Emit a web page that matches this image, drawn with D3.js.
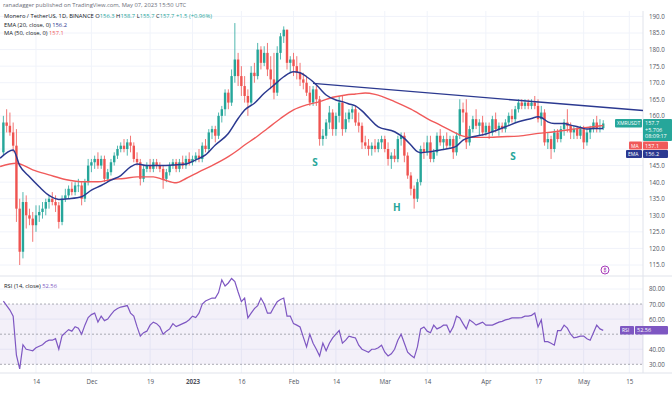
<!DOCTYPE html>
<html lang="en">
<head>
<meta charset="UTF-8">
<title>XMR/USDT 1D</title>
<script src="https://cdn.jsdelivr.net/npm/d3@7"></script>
<style>
    body {margin: 0; background: #fff;}
    text {font-family: "Open Sans", "Noto Sans", sans-serif;}
</style>
</head>
<body>
<script>
    const width = 672;
    const height = 395;

    // daily candles, 4 Nov 2022 .. 7 May 2023
    const startDate = "2022-11-04";
    const open = [
        149,158,157,155,151,132,119,134,130,129, 127,130,131,132,134,135,134,133,128,135,
        136,138,137,139,139,135,140,145,146,147, 145,147,141,143,146,148,150,151,150,152,
        151,147,146,141,144,145,144,146,145,144, 141,143,145,146,144,146,145,147,146,147,
        148,147,151,150,155,156,154,160,162,167, 164,172,177,172,169,166,164,173,172,180,
        176,179,174,171,167,179,184,186,176,177, 175,173,171,170,167,164,168,165,153,154,
        158,161,156,160,164,156,159,161,162,158, 157,152,151,150,151,150,152,153,150,147,
        148,147,153,154,148,142,138,135,140,150, 149,152,147,149,154,152,153,151,153,149,
        154,162,161,152,156,159,157,158,155,157, 155,159,156,157,156,158,160,159,162,164,
        163,164,163,164,163,159,161,152,153,150, 155,153,156,158,157,155,156,154,156,152,
        155,156,158,156,156.3];
    const high = [
        160,162,161,158,156,135,137,136,132,131, 133,133,134,135,136,137,136,134,136,138,
        139,140,140,141,140,141,147,147,148,149, 148,148,144,147,149,151,152,153,153,154,
        152,149,147,145,146,147,147,147,146,145, 144,146,147,147,147,148,148,149,148,149,
        150,152,153,156,157,157,161,163,168,168, 174,188,179,175,172,168,175,176,182,181,
        181,182,178,179,181,185,187,186,178,179, 178,176,173,172,169,169,169,166,156,159,
        163,162,161,166,166,161,162,163,163,161, 158,154,153,152,153,153,154,154,152,149,
        150,154,155,155,149,143,139,141,151,152, 154,154,150,155,156,154,155,154,154,155,
        165,164,165,157,160,162,159,160,158,158, 160,161,158,158,159,161,162,163,165,165,
        165,165,165,166,165,163,162,155,154,156, 156,157,159,162,158,157,157,157,157,156,
        157,159,160,159,158.7];
    const low = [
        148,155,154,149,128,115,117,126,127,122, 125,128,129,130,132,133,131,126,127,134,
        135,136,136,137,133,134,139,143,144,144, 144,140,140,142,145,147,149,149,148,149,
        146,145,139,140,143,143,143,144,143,138, 140,142,144,143,143,144,144,145,145,146,
        146,146,149,149,153,152,153,158,160,162, 163,170,169,166,164,160,163,170,171,174,
        175,172,168,165,166,177,182,174,173,172, 171,169,168,166,163,163,163,151,151,153,
        156,154,154,158,154,155,158,159,157,155, 150,150,148,148,149,149,150,149,145,144,
        146,146,151,146,141,136,132,134,139,147, 148,146,146,148,151,150,150,150,147,148,
        153,158,150,151,155,156,154,154,154,153, 154,155,154,155,155,157,158,158,161,162,
        162,162,162,162,158,157,151,150,147,149, 152,152,154,155,153,153,153,153,150,151,
        153,155,155,155,155.7];
    const close = [
        158,157,155,151,132,119,134,130,129,127, 130,131,132,134,135,134,133,128,135,136,
        138,137,139,139,135,140,145,146,147,145, 147,141,143,146,148,150,151,150,152,151,
        147,146,141,144,145,144,146,145,144,141, 143,145,146,144,146,145,147,146,147,148,
        147,151,150,155,156,154,160,162,167,164, 172,177,172,169,166,164,173,172,180,176,
        179,174,171,167,179,184,186,176,177,175, 173,171,170,167,164,168,165,153,154,158,
        161,156,160,164,156,159,161,162,158,157, 152,151,150,151,150,152,153,150,147,148,
        147,153,154,148,142,138,135,140,150,149, 152,147,149,154,152,153,151,153,149,154,
        162,161,152,156,159,157,158,155,157,155, 159,156,157,156,158,160,159,162,164,163,
        164,163,164,163,159,161,152,153,150,155, 153,156,158,157,155,156,154,156,152,155,
        156,158,156,156.2,157.7];
    const rsi = [
        72,69,66,62,36,27,43,40,39.5,39, 41,42,43,45,46,46,47,40,49,51,
        53,52,55,54,50,56,61,63,64,58, 62,59,60,63,65.6,67,68,68.5,69,64,
        62,55,48.7,51,52,56,58,57,54.8,50, 52,53.5,57,55,56,57,58,59.6,62,61,
        64,70,72,73,74,74,77.6,86,82,84, 87,85,78,71.6,74,60.8,64,67,69,74,
        70,64,64,68,71.6,73,74,62,62,57, 56,54.8,48,41.5,50,44,40,35.5,44,39,
        44,47.5,50,52.4,44,46,48.7,48,47.5,42.7, 40,39,38,40,40,41,42.7,38,35.5,37,
        40,46,50,44,38,36,34.3,41.5,53.5,54.8, 52,51,56,53.5,54.5,56,56,51,55,62,
        60.8,57,53.5,59.5,58,56,57,58,56,56, 56,57,58,58.5,59.5,60,60.8,60.8,60.8,61,
        62,62,62.5,64,54.8,59.5,45,45,44,42.7, 52.4,52.4,56,54,50,47.5,48,48.7,48.7,47,
        46,51,56,53.5,52.56];

    // EMA (20) and MA (50) at some candle indexes
    const emaIdx = [-1,3,5,8,11,14,17,20,24,27, 30,33,36,39,41,44,49,52,56,59, 62,65,69,72,74,77,80,83,86,89,
        91,93,95,97,99,102,104,106,108,110, 112,115,120,123,125,127,128,131,134,137,
        139,141,144,148,150,154,158,162,164,165, 167,169,172,174,177,179,181,184];
    const emaVal = [147.2,149.7,145,141.6,138.6,136,134.8,135,135.6,137.6, 139,140.6,142,144.6,145.5,145,145,145.2,145.5,146.7,
        148.2,151.2,154.7,159.2,161.8,163.8,166.8,169.3,171.8,173.3, 173,171.8,170.3,168.3,166.3,164.8,164.3,163.6,163,161.5,
        159.5,156.7,155.2,153.2,151.2,149.2,148.9,149.2,149.7,150.2, 150.9,152.7,153.7,154.5,155.2,156.7,158.2,159.2,159.7,159.5,
        158.2,157.7,157.7,157.2,156.5,156,156.2,156.2];
    const maIdx = [-1,4,9,14,19,25,29,33,37,41, 46,49,53,56,60,64,69,72,74,77, 81,85,89,93,97,101,105,108,111,114,
        120,125,130,134,138,141,144,148,153,158, 164,169,174,179,184];
    const maVal = [144.7,145.7,143.7,142.2,140.8,140.1,140.1,140.8,141.1,141.6, 141.6,140.8,139.8,141.1,143.1,145,147.7,149.7,151.2,153.2,
        156.2,159.2,161.8,163.3,164.3,165.6,166.3,166.6,166.9,166.5, 164.3,162,159.2,157.2,155.2,153.9,153.5,153.5,153.7,153.9,
        154.7,155.2,155.9,156.5,157.1];

    // neckline drawn on the chart
    const neckIdx = [95, 196.2];
    const neckVal = [169.8, 161.6];

    // head & shoulders letters
    const hsText = ["S", "H", "S"];
    const hsIdx = [95.6, 120.7, 156.3];
    const hsVal = [146.1, 132.5, 147.9];

    const priceTicks = [115,120,125,130,135,140,145,150,155,160,165,170,175,180,185,190];
    const hiddenPrice = [150, 155];   // covered by the price tags on the right
    const rsiTicks = [30,40,60,70,80];
    const rsiLevels = [30,50,70];
    const timeTicks = ["2022-11-14","2022-12-01","2022-12-19","2023-01-01","2023-01-16","2023-02-01",
        "2023-02-14","2023-03-01","2023-03-14","2023-04-01","2023-04-17","2023-05-01","2023-05-15"];
    const timeLabels = ["14","Dec","19","2023","16","Feb","14","Mar","14","Apr","17","May","15"];

    const up = "#26a69a", down = "#ef5350", emaColor = "#2b3990", maColor = "#f05a5a", rsiColor = "#7e57c2";
    const plotR = 643, mainTop = 11, mainBot = 276, rsiBot = 373;

    const parse = d3.utcParse("%Y-%m-%d");
    const day0 = parse(startDate);
    const at = i => new Date(day0.getTime() + i * 864e5);

    const x = d3.scaleUtc().domain([at(-1.04), at(196.2)]).range([0, plotR]);
    const y = d3.scaleLinear().domain([115, 185]).range([265, 33]);
    const yr = d3.scaleLinear().domain([30, 80]).range([364.3, 289]);

    const svg = d3.select("body").append("svg")
            .attr("width", width).attr("height", height);

    svg.append("rect").attr("width", width).attr("height", height).attr("fill", "#fff");

    const defs = svg.append("defs");
    defs.append("clipPath").attr("id", "clipMain").append("rect")
            .attr("x", 0).attr("y", mainTop).attr("width", plotR).attr("height", mainBot - mainTop);
    defs.append("clipPath").attr("id", "clipRsi").append("rect")
            .attr("x", 0).attr("y", mainBot).attr("width", plotR).attr("height", rsiBot - mainBot);

    // grid
    svg.append("g").selectAll("line").data(priceTicks).join("line")
            .attr("x1", 0).attr("x2", plotR)
            .attr("y1", d => y(d)).attr("y2", d => y(d))
            .attr("stroke", "#f0f3fa").attr("stroke-width", 1);
    svg.append("g").selectAll("line").data([40, 60, 80]).join("line")
            .attr("x1", 0).attr("x2", plotR)
            .attr("y1", d => yr(d)).attr("y2", d => yr(d))
            .attr("stroke", "#f0f3fa");
    svg.append("g").selectAll("line").data(timeTicks).join("line")
            .attr("x1", d => x(parse(d))).attr("x2", d => x(parse(d)))
            .attr("y1", mainTop).attr("y2", rsiBot)
            .attr("stroke", "#f0f3fa");

    // pane borders
    svg.append("line").attr("x1", 0).attr("x2", width).attr("y1", mainBot).attr("y2", mainBot).attr("stroke", "#e0e3eb");
    svg.append("line").attr("x1", 0).attr("x2", width).attr("y1", rsiBot).attr("y2", rsiBot).attr("stroke", "#e0e3eb");
    svg.append("line").attr("x1", plotR).attr("x2", plotR).attr("y1", mainTop).attr("y2", rsiBot).attr("stroke", "#e0e3eb");

    // candles
    const candles = close.map((c, i) => ({i, o: open[i], h: high[i], l: low[i], c}));
    const main = svg.append("g").attr("clip-path", "url(#clipMain)");

    const cg = main.selectAll("g.candle").data(candles).join("g").attr("class", "candle");
    cg.append("line")
            .attr("x1", d => x(at(d.i))).attr("x2", d => x(at(d.i)))
            .attr("y1", d => y(d.h)).attr("y2", d => y(d.l))
            .attr("stroke", d => d.c >= d.o ? up : down).attr("stroke-width", 0.8);
    cg.append("rect")
            .attr("x", d => x(at(d.i)) - 1.2).attr("width", 2.4)
            .attr("y", d => y(Math.max(d.o, d.c)))
            .attr("height", d => Math.max(0.8, Math.abs(y(d.o) - y(d.c))))
            .attr("fill", d => d.c >= d.o ? up : down);

    const line = d3.line().curve(d3.curveMonotoneX);
    main.append("path")
            .attr("d", line(maIdx.map((d, k) => [x(at(d)), y(maVal[k])])))
            .attr("fill", "none").attr("stroke", maColor).attr("stroke-width", 1.4);
    main.append("path")
            .attr("d", line(emaIdx.map((d, k) => [x(at(d)), y(emaVal[k])])))
            .attr("fill", "none").attr("stroke", emaColor).attr("stroke-width", 1.5);
    main.append("path")
            .attr("d", d3.line()(neckIdx.map((d, k) => [x(at(d)), y(neckVal[k])])))
            .attr("fill", "none").attr("stroke", emaColor).attr("stroke-width", 1.4);

    main.selectAll("text.hs").data(hsText).join("text").attr("class", "hs")
            .attr("x", (d, k) => x(at(hsIdx[k]))).attr("y", (d, k) => y(hsVal[k]))
            .attr("text-anchor", "middle").attr("dominant-baseline", "central")
            .attr("fill", up).attr("font-size", 10).attr("font-weight", 700)
            .text(d => d);

    // small marker icon near the bottom right of the price pane
    svg.append("circle").attr("cx", 605).attr("cy", 270).attr("r", 4)
            .attr("fill", "#fff").attr("stroke", "#9c27b0").attr("stroke-width", 0.9);
    svg.append("text").attr("x", 605).attr("y", 272).attr("text-anchor", "middle")
            .attr("font-size", 5).attr("fill", "#9c27b0").text("₿");

    // RSI pane
    const rg = svg.append("g").attr("clip-path", "url(#clipRsi)");
    rg.append("rect").attr("x", 0).attr("width", plotR)
            .attr("y", yr(70)).attr("height", yr(30) - yr(70))
            .attr("fill", rsiColor).attr("fill-opacity", 0.09);
    rg.selectAll("line.lvl").data(rsiLevels).join("line").attr("class", "lvl")
            .attr("x1", 0).attr("x2", plotR)
            .attr("y1", d => yr(d)).attr("y2", d => yr(d))
            .attr("stroke", "#9598a1").attr("stroke-width", 0.8).attr("stroke-dasharray", "2,2");
    rg.append("path")
            .attr("d", d3.line()(rsi.map((v, i) => [x(at(i)), yr(v)])))
            .attr("fill", "none").attr("stroke", rsiColor).attr("stroke-width", 1.2);

    // axes
    const axisText = g => g.call(a => a.select(".domain").remove())
            .selectAll("text").attr("fill", "#50535e").attr("font-size", 6.2);

    svg.append("g").attr("transform", `translate(${plotR + 3},0)`)
            .call(d3.axisRight(y).tickValues(priceTicks.filter(d => !hiddenPrice.includes(d)))
                    .tickSize(0).tickFormat(d3.format(".1f")))
            .call(axisText);
    svg.append("g").attr("transform", `translate(${plotR + 3},0)`)
            .call(d3.axisRight(yr).tickValues(rsiTicks).tickSize(0).tickFormat(d3.format(".2f")))
            .call(axisText);
    svg.append("g").attr("transform", `translate(0,${rsiBot + 4})`)
            .call(d3.axisBottom(x).tickValues(timeTicks.map(parse)).tickSize(0)
                    .tickFormat((d, k) => timeLabels[k]))
            .call(axisText)
            .selectAll("text").attr("font-weight", (d, k) => timeLabels[k] === "2023" ? 700 : 400);

    // header and legends
    svg.append("text").attr("x", 3).attr("y", 7).attr("font-size", 5.8).attr("fill", "#6a6d78")
            .text("ranadagger published on TradingView.com, May 07, 2023 15:50 UTC");

    const last = close.length - 1;
    const chg = close[last] - close[last - 1];
    const fmt = d3.format(".1f");
    const l1 = svg.append("text").attr("x", 4).attr("y", 18).attr("font-size", 5.8).attr("fill", "#131722");
    l1.append("tspan").text("Monero / TetherUS, 1D, BINANCE  ");
    [["O", open[last]], ["H", high[last]], ["L", low[last]], ["C", close[last]]].forEach(([k, v]) => {
        l1.append("tspan").text(k);
        l1.append("tspan").attr("fill", up).text(fmt(v) + " ");
    });
    l1.append("tspan").attr("fill", up)
            .text(`+${fmt(chg)} (+${d3.format(".2f")(chg / close[last - 1] * 100)}%)`);

    const l2 = svg.append("text").attr("x", 4).attr("y", 26.5).attr("font-size", 5.8).attr("fill", "#131722");
    l2.append("tspan").text("EMA (20, close, 0)  ");
    l2.append("tspan").attr("fill", emaColor).text(fmt(emaVal[emaVal.length - 1]));
    const l3 = svg.append("text").attr("x", 4).attr("y", 35).attr("font-size", 5.8).attr("fill", "#131722");
    l3.append("tspan").text("MA (50, close, 0)  ");
    l3.append("tspan").attr("fill", maColor).text(fmt(maVal[maVal.length - 1]));

    const l4 = svg.append("text").attr("x", 4).attr("y", 288).attr("font-size", 5.8).attr("fill", "#131722");
    l4.append("tspan").text("RSI (14, close)  ");
    l4.append("tspan").attr("fill", rsiColor).text(d3.format(".2f")(rsi[last]));

    // right side price tags
    function tag(x0, y0, w, h, fill, lines, size) {
        svg.append("rect").attr("x", x0).attr("y", y0).attr("width", w).attr("height", h)
                .attr("fill", fill).attr("rx", 1);
        lines.forEach((t, k) => svg.append("text")
                .attr("x", x0 + 2).attr("y", y0 + 6 + k * 6.5)
                .attr("font-size", size).attr("fill", "#fff").text(t));
    }
    tag(615, 119, 27, 8.5, up, ["XMRUSDT"], 5);
    tag(643, 119, 29, 22, up, [fmt(close[last]), "+5.706", "08:09:17"], 5.5);
    tag(629, 141.5, 13, 8, maColor, ["MA"], 5);
    tag(643, 141.5, 25, 8, maColor, [fmt(maVal[maVal.length - 1])], 5.5);
    tag(626, 150, 16, 8, emaColor, ["EMA"], 5);
    tag(643, 150, 25, 8, emaColor, [fmt(emaVal[emaVal.length - 1])], 5.5);
    tag(620, 326, 14, 8.5, rsiColor, ["RSI"], 5);
    tag(635, 326, 33, 8.5, rsiColor, [d3.format(".2f")(rsi[last])], 5.5);
</script>
</body>
</html>
